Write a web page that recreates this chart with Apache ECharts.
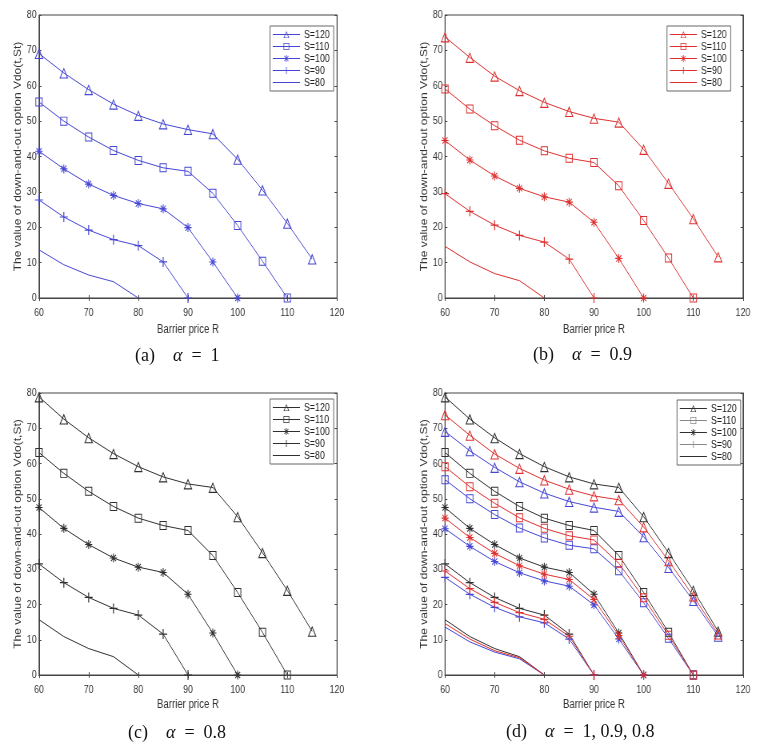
<!DOCTYPE html>
<html>
<head>
<meta charset="utf-8">
<script src="https://cdn.jsdelivr.net/npm/echarts@6/dist/echarts.min.js"></script>
<style>
    html, body { margin: 0; padding: 0; background: #fff; }
    /* 原图横向被压缩，这里用 scaleX 还原 */
    .panel { position: absolute; width: 475px; transform: scaleX(0.8); transform-origin: 0 0; }
    #chartA { left: 0; top: 0; height: 370px; }
    #chartB { left: 380px; top: 0; height: 370px; }
    #chartC { left: 0; top: 370px; height: 376px; }
    #chartD { left: 380px; top: 370px; height: 376px; }
    .cap { position: absolute; font-family: 'Liberation Serif', 'Times New Roman', serif; font-size: 18px; color: #111; white-space: pre; line-height: 20px; }
    .cap i { font-style: italic; }
</style>
</head>
<body>
<div id="chartA" class="panel"></div>
<div id="chartB" class="panel"></div>
<div id="chartC" class="panel"></div>
<div id="chartD" class="panel"></div>
<div class="cap" style="left:135px; top:345px;">(a)    <i>α</i>  =  1</div>
<div class="cap" style="left:533px; top:344px;">(b)    <i>α</i>  =  0.9</div>
<div class="cap" style="left:128px; top:722px;">(c)    <i>α</i>  =  0.8</div>
<div class="cap" style="left:506px; top:721px;">(d)    <i>α</i>  =  1, 0.9, 0.8</div>
<script>
// 障碍价格 R (x 轴)
var barrier = [60, 65, 70, 75, 80, 85, 90, 95, 100, 105, 110, 115];
var seriesNames = ['S=120', 'S=110', 'S=100', 'S=90', 'S=80'];

// alpha = 1
var a1_S120 = [69.1, 63.6, 58.9, 54.8, 51.6, 49.2, 47.6, 46.4, 39.2, 30.5, 21.1, 11.0];
var a1_S110 = [55.4, 50.0, 45.5, 41.7, 38.9, 36.8, 35.8, 29.6, 20.5, 10.4, 0];
var a1_S100 = [41.5, 36.5, 32.2, 29.0, 26.7, 25.2, 19.9, 10.2, 0];
var a1_S90  = [27.7, 22.9, 19.2, 16.5, 14.8, 10.2, 0];
var a1_S80  = [13.6, 9.4, 6.5, 4.6, 0];

// alpha = 0.9
var a09_S120 = [73.8, 68.0, 62.7, 58.6, 55.3, 52.7, 50.8, 49.7, 42.0, 32.4, 22.4, 11.6];
var a09_S110 = [59.1, 53.4, 48.7, 44.6, 41.6, 39.5, 38.3, 31.7, 21.9, 11.3, 0];
var a09_S100 = [44.5, 39.0, 34.5, 31.0, 28.6, 27.1, 21.4, 11.2, 0];
var a09_S90  = [29.5, 24.5, 20.6, 17.7, 15.8, 11.0, 0];
var a09_S80  = [14.6, 10.2, 6.9, 4.9, 0];

// alpha = 0.8
var a08_S120 = [78.9, 72.6, 67.3, 62.8, 59.1, 56.2, 54.2, 53.2, 44.9, 34.7, 24.0, 12.4];
var a08_S110 = [63.1, 57.2, 52.1, 47.8, 44.5, 42.4, 41.0, 33.9, 23.4, 12.1, 0];
var a08_S100 = [47.5, 41.6, 37.0, 33.2, 30.6, 29.1, 22.9, 11.9, 0];
var a08_S90  = [31.5, 26.2, 22.0, 18.9, 17.0, 11.6, 0];
var a08_S80  = [15.7, 10.9, 7.5, 5.2, 0];

var BLUE = '#4646d4';
var RED = '#de3030';
var BLACK = '#303030';
var FONT = "'Liberation Sans', Arial, sans-serif";

// 标记形状（空心三角、空心方块用细环形路径）
var TRI = 'path://M0,-5L5,4L-5,4ZM0,-3.1L-3.45,3.1L3.45,3.1Z';
var SQR = 'path://M-5,-5L5,-5L5,5L-5,5ZM-3.9,-3.9L-3.9,3.9L3.9,3.9L3.9,-3.9Z';
var PLUS = 'path://M-0.6,-5L0.6,-5L0.6,5L-0.6,5ZM-5,-0.6L5,-0.6L5,0.6L-5,0.6Z';
var STAR = 'path://M-0.6,-5L0.6,-5L0.6,5L-0.6,5ZM-5,-0.6L5,-0.6L5,0.6L-5,0.6Z' +
    'M-3.08,-3.92L3.92,3.08L3.08,3.92L-3.92,-3.08Z' +
    'M-3.92,3.08L3.08,-3.92L3.92,-3.08L-3.08,3.92Z';
var symbols = [TRI, SQR, STAR, PLUS, 'none'];
var symbolSizes = [11, 9, 9, 10, 1];

function pairs(values) {
    var out = [];
    for (var i = 0; i < values.length; i++) {
        out.push([barrier[i], values[i]]);
    }
    return out;
}

function makeSeries(group, color) {
    var list = [];
    for (var i = 0; i < group.length; i++) {
        list.push({
            name: seriesNames[i],
            type: 'line',
            data: pairs(group[i]),
            symbol: symbols[i],
            symbolSize: symbolSizes[i],
            showSymbol: symbols[i] !== 'none',
            animation: false,
            lineStyle: { color: color, width: 1 },
            itemStyle: { color: color, borderColor: color, borderWidth: 0 }
        });
    }
    return list;
}

// 图例（S=80 只画线）
function legendItems(colors) {
    var items = [];
    for (var i = 0; i < seriesNames.length; i++) {
        var c = colors[i];
        var item = { name: seriesNames[i], lineStyle: { color: c, width: 1 }, itemStyle: { color: c, borderWidth: 0 } };
        if (i === 4) item.itemStyle.opacity = 0;
        items.push(item);
    }
    return items;
}

function buildOption(cfg) {
    var axisColor = '#444';
    return {
        animation: false,
        grid: {
            left: cfg.left, top: cfg.top, width: 372.5, height: cfg.height,
            outerBoundsMode: 'none',
            show: true, borderColor: axisColor, borderWidth: 1, backgroundColor: '#fff'
        },
        legend: {
            orient: 'vertical',
            left: cfg.legendLeft,
            top: cfg.legendTop,
            data: cfg.legendData,
            itemWidth: 34,
            itemHeight: 9,
            itemGap: 1,
            padding: [3, 5, 3, 3],
            borderColor: '#666',
            borderWidth: 1,
            backgroundColor: '#fff',
            selectedMode: false,
            textStyle: { fontFamily: FONT, fontSize: 11, color: '#222' }
        },
        xAxis: [{
            type: 'value',
            min: 60, max: 120, interval: 10,
            name: 'Barrier price R',
            nameLocation: 'middle',
            nameGap: cfg.xNameGap,
            nameMoveOverlap: false,
            nameTextStyle: { fontFamily: FONT, fontSize: 12, color: '#333' },
            axisLine: { show: true, lineStyle: { color: axisColor } },
            axisTick: { inside: true, length: 3, lineStyle: { color: axisColor } },
            axisLabel: { fontFamily: FONT, fontSize: 11, color: '#333', margin: 9 },
            splitLine: { show: false }
        }, {
            type: 'value', position: 'top',
            min: 60, max: 120, interval: 10,
            axisLine: { show: true, lineStyle: { color: axisColor } },
            axisTick: { inside: true, length: 3, lineStyle: { color: axisColor } },
            axisLabel: { show: false },
            splitLine: { show: false }
        }],
        yAxis: [{
            type: 'value',
            min: 0, max: 80, interval: 10,
            name: 'The value of down-and-out option Vdo(t,St)',
            nameLocation: 'middle',
            nameGap: 20,
            nameMoveOverlap: false,
            nameTextStyle: { fontFamily: FONT, fontSize: 12, color: '#333' },
            axisLine: { show: true, lineStyle: { color: axisColor } },
            axisTick: { inside: true, length: 3, lineStyle: { color: axisColor } },
            axisLabel: { fontFamily: FONT, fontSize: 11, color: '#333', margin: 3 },
            splitLine: { show: false }
        }, {
            type: 'value', position: 'right',
            min: 0, max: 80, interval: 10,
            axisLine: { show: true, lineStyle: { color: axisColor } },
            axisTick: { inside: true, length: 3, lineStyle: { color: axisColor } },
            axisLabel: { show: false },
            splitLine: { show: false }
        }],
        series: cfg.series
    };
}

// (a) alpha = 1
function chartA() {
    var myChart = echarts.init(document.getElementById('chartA'));
    myChart.setOption(buildOption({
        left: 48.75, top: 15, height: 283, xNameGap: 26,
        legendLeft: 337.5, legendTop: 26,
        legendData: legendItems([BLUE, BLUE, BLUE, BLUE, BLUE]),
        series: makeSeries([a1_S120, a1_S110, a1_S100, a1_S90, a1_S80], BLUE)
    }));
}

// (b) alpha = 0.9
function chartB() {
    var myChart = echarts.init(document.getElementById('chartB'));
    myChart.setOption(buildOption({
        left: 81.25, top: 15, height: 283, xNameGap: 26,
        legendLeft: 358.75, legendTop: 26,
        legendData: legendItems([RED, RED, RED, RED, RED]),
        series: makeSeries([a09_S120, a09_S110, a09_S100, a09_S90, a09_S80], RED)
    }));
}

// (c) alpha = 0.8
function chartC() {
    var myChart = echarts.init(document.getElementById('chartC'));
    myChart.setOption(buildOption({
        left: 48.75, top: 23, height: 282, xNameGap: 24,
        legendLeft: 337.5, legendTop: 29,
        legendData: legendItems([BLACK, BLACK, BLACK, BLACK, BLACK]),
        series: makeSeries([a08_S120, a08_S110, a08_S100, a08_S90, a08_S80], BLACK)
    }));
}

// (d) 三种 alpha 叠加
function chartD() {
    var myChart = echarts.init(document.getElementById('chartD'));
    var all = makeSeries([a08_S120, a08_S110, a08_S100, a08_S90, a08_S80], BLACK)
        .concat(makeSeries([a1_S120, a1_S110, a1_S100, a1_S90, a1_S80], BLUE))
        .concat(makeSeries([a09_S120, a09_S110, a09_S100, a09_S90, a09_S80], RED));
    myChart.setOption(buildOption({
        left: 81.25, top: 23, height: 282, xNameGap: 24,
        legendLeft: 371.25, legendTop: 30,
        legendData: legendItems([BLACK, '#888', BLACK, '#888', BLACK]),
        series: all
    }));
}

chartA();
chartB();
chartC();
chartD();
</script>
</body>
</html>
